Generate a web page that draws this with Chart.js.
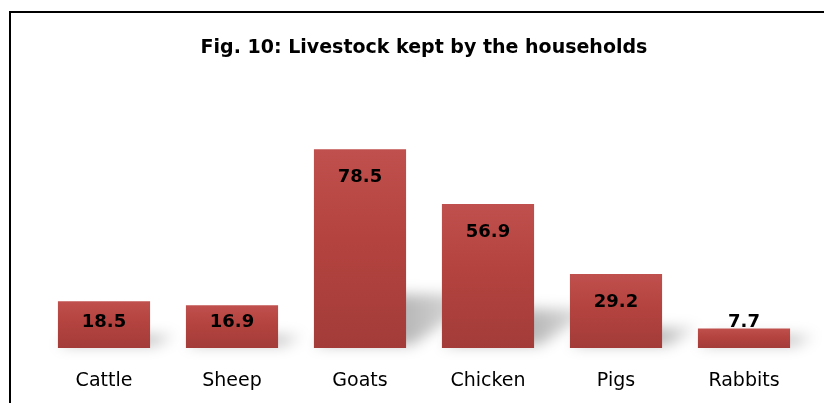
<!DOCTYPE html>
<html>
<head>
<meta charset="utf-8">
<script src="https://cdn.jsdelivr.net/npm/chart.js@4"></script>
<style>
  html, body { margin: 0; padding: 0; background: #fff; }
  #wrap { position: relative; width: 824px; height: 403px; overflow: hidden; }
  #frame { position: absolute; left: 9px; top: 11px; width: 900px; height: 500px;
           border-left: 2px solid #000; border-top: 2px solid #000; }
  canvas { position: absolute; left: 0; top: 0; }
</style>
</head>
<body>
<div id="wrap">
  <div id="frame"></div>
  <canvas id="chart" width="824" height="403"></canvas>
</div>
<script>
const categories = ["Cattle", "Sheep", "Goats", "Chicken", "Pigs", "Rabbits"];
const livestock = [18.5, 16.9, 78.5, 56.9, 29.2, 7.7];
const chartTitle = "Fig. 10: Livestock kept by the households";

const fontFamily = "'DejaVu Sans', sans-serif";

// perspective shadow lying on the floor behind each bar
const barShadow = {
  id: "barShadow",
  beforeDatasetsDraw(chart) {
    const ctx = chart.ctx;
    const meta = chart.getDatasetMeta(0);
    ctx.save();
    ctx.filter = "blur(7px)";
    meta.data.forEach(function (bar) {
      const h = bar.base - bar.y;
      const sh = Math.max(h * 0.27, 12);
      const dx = sh * 1.3;
      const left = bar.x - bar.width / 2;
      const right = bar.x + bar.width / 2;
      const g = ctx.createLinearGradient(right, 0, right + dx + 20, 0);
      g.addColorStop(0, "rgba(0,0,0,0.28)");
      g.addColorStop(1, "rgba(0,0,0,0.06)");
      ctx.fillStyle = g;
      ctx.beginPath();
      ctx.moveTo(left, bar.base - 3);
      ctx.lineTo(right + 6, bar.base - 3);
      ctx.lineTo(right + dx + 10, bar.base - sh);
      ctx.lineTo(left + dx, bar.base - sh);
      ctx.closePath();
      ctx.fill();
    });
    ctx.restore();
  }
};

// value labels near the top of each bar
const valueLabels = {
  id: "valueLabels",
  afterDatasetsDraw(chart) {
    const ctx = chart.ctx;
    const meta = chart.getDatasetMeta(0);
    ctx.save();
    ctx.font = "bold 18px " + fontFamily;
    ctx.fillStyle = "#000";
    ctx.textAlign = "center";
    ctx.textBaseline = "middle";
    meta.data.forEach(function (bar, i) {
      const y = Math.min(bar.y + 28, bar.base - 26);
      ctx.fillText(livestock[i].toFixed(1), bar.x, y);
    });
    ctx.restore();
  }
};

function barGradient(context) {
  const chart = context.chart;
  const area = chart.chartArea;
  if (!area) return "#C0504D";
  const yScale = chart.scales.y;
  const top = yScale.getPixelForValue(context.raw);
  const bottom = yScale.getPixelForValue(0);
  const g = chart.ctx.createLinearGradient(0, top, 0, bottom);
  g.addColorStop(0, "#C0504D");
  g.addColorStop(0.45, "#B4433F");
  g.addColorStop(1, "#A33C39");
  return g;
}

new Chart(document.getElementById("chart"), {
  type: "bar",
  data: {
    labels: categories,
    datasets: [{
      data: livestock,
      backgroundColor: barGradient,
      borderWidth: 0,
      categoryPercentage: 0.72,
      barPercentage: 1
    }]
  },
  options: {
    responsive: false,
    animation: false,
    layout: { padding: { left: 40, right: 16, top: 10, bottom: 11 } },
    plugins: {
      legend: { display: false },
      tooltip: { enabled: false },
      title: {
        display: true,
        text: chartTitle,
        color: "#000",
        font: { family: fontFamily, size: 19, weight: "bold" },
        padding: { top: 27, bottom: 35 }
      }
    },
    scales: {
      x: {
        grid: { display: false, drawTicks: false },
        border: { display: false },
        afterFit(scale) { scale.height = 44; },
        ticks: {
          color: "#000",
          padding: 22,
          font: { family: fontFamily, size: 19 }
        }
      },
      y: {
        display: false,
        min: 0,
        max: 100
      }
    }
  },
  plugins: [barShadow, valueLabels]
});
</script>
</body>
</html>
